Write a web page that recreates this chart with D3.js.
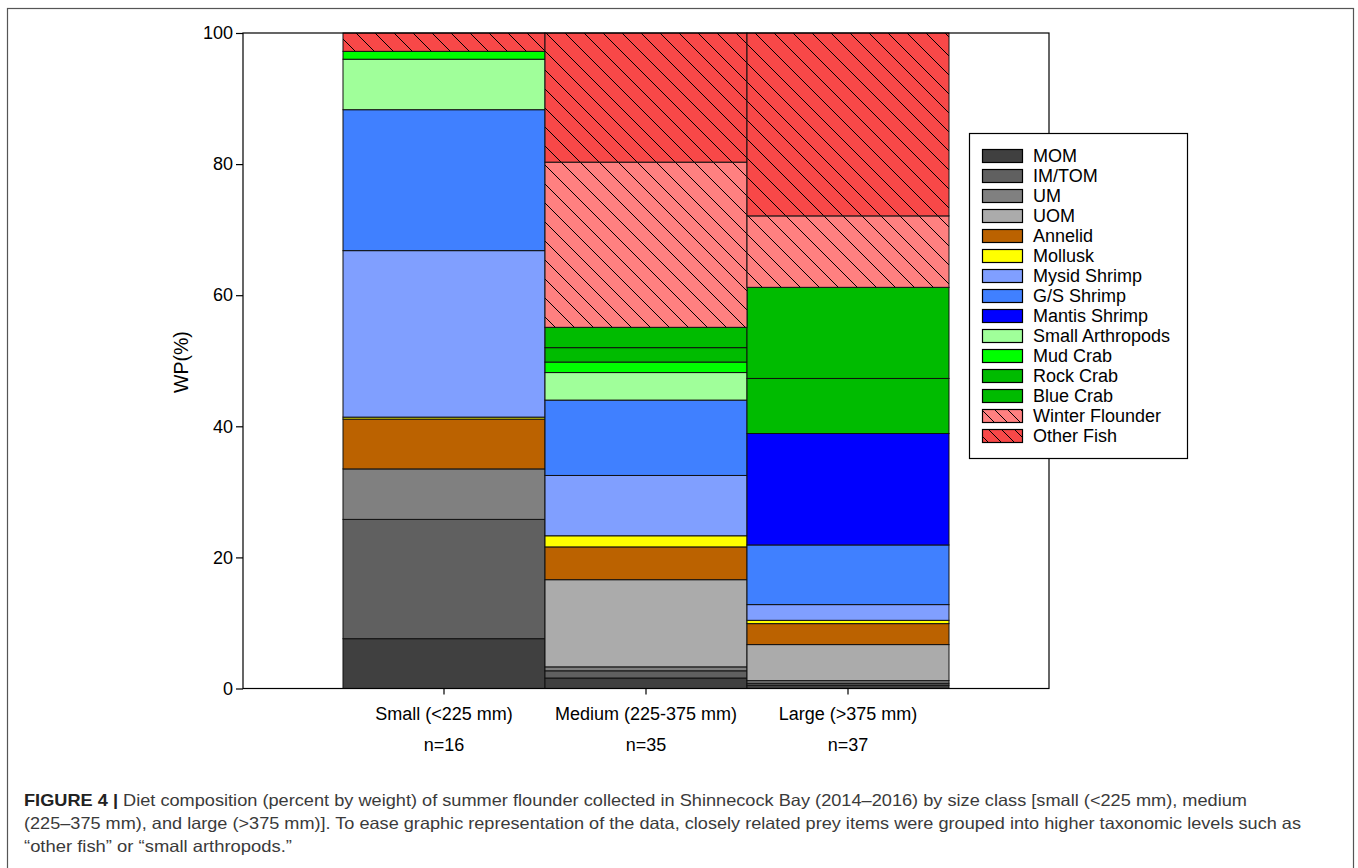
<!DOCTYPE html>
<html><head><meta charset="utf-8">
<script src="https://cdn.jsdelivr.net/npm/d3@7"></script>
<style>
body{margin:0;background:#fff;}
svg{display:block;font-family:"Liberation Sans",Arial,sans-serif;}
</style></head>
<body><svg id="c" width="1358" height="868"></svg>
<script>
const categories = ["Small (<225 mm)", "Medium (225-375 mm)", "Large (>375 mm)"];
const sampleSizes = ["n=16", "n=35", "n=37"];
const preyItems = ["MOM","IM/TOM","UM","UOM","Annelid","Mollusk","Mysid Shrimp","G/S Shrimp","Mantis Shrimp","Small Arthropods","Mud Crab","Rock Crab","Blue Crab","Winter Flounder","Other Fish"];
const smallValues  = [7.6, 18.2, 7.7, 0.0, 7.6, 0.3, 25.4, 21.5, 0.0, 7.7, 1.2, 0.0, 0.0, 0.0, 2.8];
const mediumValues = [1.6, 1.1, 0.6, 13.3, 5.0, 1.7, 9.2, 11.5, 0.0, 4.2, 1.6, 2.2, 3.1, 25.2, 19.7];
const largeValues  = [0.5, 0.3, 0.4, 5.5, 3.2, 0.5, 2.4, 9.1, 17.0, 0.0, 0.0, 8.4, 13.9, 10.9, 27.9];
const preyColors = ["#404040","#606060","#808080","#ababab","#bb6200","#ffff00","#809fff","#4080ff","#0000ff","#a0ff9a","#00ff00","#00bb00","#00bb00","#ff8080","#f84848"];
const hatched = ["Winter Flounder","Other Fish"];
const yTicks = [0,20,40,60,80,100];
const captionLines = [
  ["FIGURE 4 |", " Diet composition (percent by weight) of summer flounder collected in Shinnecock Bay (2014–2016) by size class [small (<225 mm), medium"],
  ["", "(225–375 mm), and large (>375 mm)]. To ease graphic representation of the data, closely related prey items were grouped into higher taxonomic levels such as"],
  ["", "“other fish” or “small arthropods.”"]
];

const svg = d3.select("#c");
svg.append("rect").attr("x",7.5).attr("y",8.5).attr("width",1346).attr("height",880)
  .attr("fill","#fff").attr("stroke","#555").attr("stroke-width",1.2);

const frame = {l:243, r:1049, t:33, b:688.5};
const x = d3.scaleBand().domain(categories).range([343, 949]).padding(0);
const y = d3.scaleLinear().domain([0,100]).range([frame.b, frame.t]);

// patterns
const defs = svg.append("defs");
preyItems.forEach((p,i)=>{
  if(!hatched.includes(p)) return;
  const pat = defs.append("pattern").attr("id","hatch"+i).attr("patternUnits","userSpaceOnUse")
    .attr("width",19).attr("height",19).attr("x",0).attr("y",0);
  pat.append("rect").attr("width",19).attr("height",19).attr("fill",preyColors[i]);
  pat.append("path").attr("d","M-1,-1 L20,20 M-10,9 L10,29 M9,-10 L29,10")
    .attr("stroke","#000").attr("stroke-width",1).attr("fill","none");
  const pat2 = defs.append("pattern").attr("id","lhatch"+i).attr("patternUnits","userSpaceOnUse")
    .attr("width",13).attr("height",13).attr("x",0).attr("y",0);
  pat2.append("rect").attr("width",13).attr("height",13).attr("fill",preyColors[i]);
  pat2.append("path").attr("d","M-1,-1 L14,14 M-7,6 L7,20 M6,-7 L20,7")
    .attr("stroke","#000").attr("stroke-width",1).attr("fill","none");
});
const fillOf = i => hatched.includes(preyItems[i]) ? `url(#hatch${i})` : preyColors[i];

// data table
const table = categories.map((c,ci)=>{
  const vals = [smallValues, mediumValues, largeValues][ci];
  const row = {cat:c};
  preyItems.forEach((p,i)=> row[p]=vals[i]);
  return row;
});
const stack = d3.stack().keys(preyItems)(table);

svg.append("rect").attr("x",frame.l).attr("y",frame.t).attr("width",frame.r-frame.l).attr("height",frame.b-frame.t)
  .attr("fill","#fff");

stack.forEach((layer,i)=>{
  svg.append("g").selectAll("rect").data(layer.filter(d=>d[1]-d[0]>0)).join("rect")
    .attr("x",d=>x(d.data.cat)).attr("width",x.bandwidth())
    .attr("y",d=>y(d[1])).attr("height",d=>y(d[0])-y(d[1]))
    .attr("fill",fillOf(i)).attr("stroke","#111").attr("stroke-width",1);
});

svg.append("rect").attr("x",frame.l).attr("y",frame.t).attr("width",frame.r-frame.l).attr("height",frame.b-frame.t)
  .attr("fill","none").attr("stroke","#000").attr("stroke-width",1.2);

// y axis
const ya = svg.append("g").attr("transform",`translate(${frame.l},0)`)
  .call(d3.axisLeft(y).tickValues(yTicks).tickSize(7).tickPadding(3));
ya.select(".domain").remove();
ya.selectAll("text").attr("font-size",18).attr("fill","#000").attr("font-family","Liberation Sans, Arial");
ya.selectAll("line").attr("stroke","#000").attr("stroke-width",1.2);

// x axis
const xa = svg.append("g").attr("transform",`translate(0,${frame.b})`)
  .call(d3.axisBottom(x).tickSize(6).tickPadding(13));
xa.select(".domain").remove();
xa.selectAll("text").attr("font-size",18).attr("fill","#000").attr("font-family","Liberation Sans, Arial");
xa.selectAll("line").attr("stroke","#000").attr("stroke-width",1.2);
svg.append("g").selectAll("text").data(categories).join("text")
  .attr("x",d=>x(d)+x.bandwidth()/2).attr("y",751).attr("text-anchor","middle")
  .attr("font-size",18).text((d,i)=>sampleSizes[i]);

svg.append("text").attr("transform","translate(188,362) rotate(-90)").attr("text-anchor","middle")
  .attr("font-size",19.5).text("WP(%)");

// legend
const lg = svg.append("g");
lg.append("rect").attr("x",969.5).attr("y",133.5).attr("width",218).attr("height",325)
  .attr("fill","#fff").attr("stroke","#000").attr("stroke-width",1.2);
preyItems.forEach((p,i)=>{
  const cy = 155.5 + i*20;
  lg.append("rect").attr("x",982.5).attr("y",cy-6).attr("width",40).attr("height",13)
    .attr("fill", hatched.includes(p)?`url(#lhatch${i})`:preyColors[i]).attr("stroke","#000").attr("stroke-width",1.2);
  lg.append("text").attr("x",1033).attr("y",cy+6.5).attr("font-size",18).text(p);
});

// caption
const cap = svg.append("g").attr("font-family","'Liberation Sans', Arial");
const capY = [806, 829, 852];
const capLen = [1223, 1277, 268];
captionLines.forEach((ln,i)=>{
  const t = cap.append("text").attr("x",24).attr("y",capY[i]).attr("font-size",16.5).attr("fill","#3a3a3a")
    .attr("textLength",capLen[i]).attr("lengthAdjust","spacingAndGlyphs");
  if(ln[0]) t.append("tspan").attr("font-weight","bold").attr("fill","#222").text(ln[0]);
  t.append("tspan").text(ln[1]);
});
</script></body></html>
